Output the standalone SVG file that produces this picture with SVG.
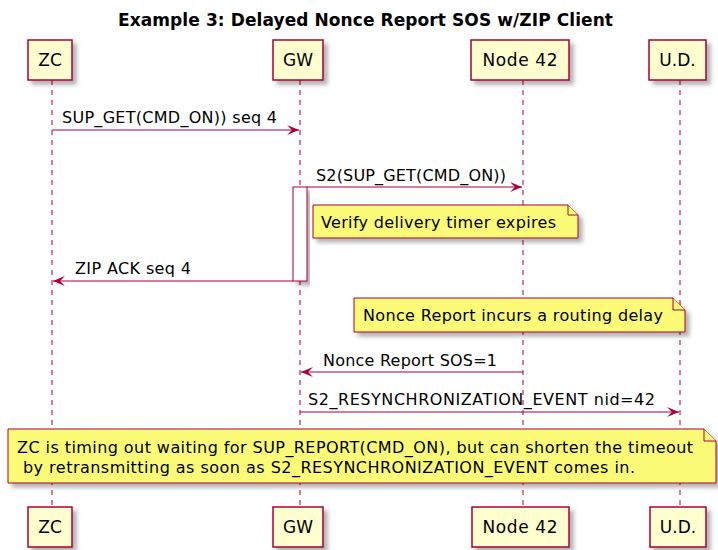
<svg xmlns="http://www.w3.org/2000/svg" width="718" height="550" viewBox="0 0 718 550">
<defs>
<filter id="sh" x="-10%" y="-10%" width="130%" height="140%">
<feDropShadow dx="4" dy="4" stdDeviation="2" flood-color="#000" flood-opacity="0.3"/>
</filter>
<marker id="ah" viewBox="0 0 12 10" refX="12" refY="5" markerWidth="12" markerHeight="10" markerUnits="userSpaceOnUse" orient="auto">
<polygon points="0,0 12,5 0,10 5,5" fill="#A80036"/>
</marker>
</defs>
<style>
text{font-family:"DejaVu Sans","Liberation Sans",sans-serif;font-size:16px;fill:#000}
.title{font-weight:bold;font-size:17px}
.pt{font-size:17px;text-anchor:middle}
.part{fill:#FEFECE;stroke:#A80036;stroke-width:1.5}
.life{stroke:#A80036;stroke-width:1;stroke-dasharray:5,5;fill:none}
.msg{stroke:#A80036;stroke-width:1;fill:none;marker-end:url(#ah)}
.note{fill:#FBFB77;stroke:#A80036;stroke-width:1}
.act{fill:#FFFFFF;stroke:#A80036;stroke-width:1}
</style>
<rect width="718" height="550" fill="#fff"/>
<text class="title" x="118" y="26" textLength="495">Example 3: Delayed Nonce Report SOS w/ZIP Client</text>

<g id="lifelines">
<line class="life" x1="52" y1="80" x2="52" y2="507"/>
<line class="life" x1="300" y1="80" x2="300" y2="507"/>
<line class="life" x1="523" y1="80" x2="523" y2="507"/>
<line class="life" x1="680" y1="80" x2="680" y2="507"/>
</g>

<g id="ZC">
<rect class="part" x="28" y="40" width="44" height="40" filter="url(#sh)"/>
<text class="pt" x="50" y="66">ZC</text>
<rect class="part" x="28" y="507" width="44" height="40" filter="url(#sh)"/>
<text class="pt" x="50" y="533">ZC</text>
</g>
<g id="GW">
<rect class="part" x="273" y="40" width="50" height="40" filter="url(#sh)"/>
<text class="pt" x="298" y="66">GW</text>
<rect class="part" x="273" y="507" width="50" height="40" filter="url(#sh)"/>
<text class="pt" x="298" y="533">GW</text>
</g>
<g id="Node42">
<rect class="part" x="471" y="40" width="98" height="40" filter="url(#sh)"/>
<text class="pt" x="520" y="66" textLength="75">Node 42</text>
<rect class="part" x="472" y="507" width="97" height="40" filter="url(#sh)"/>
<text class="pt" x="520" y="533" textLength="75">Node 42</text>
</g>
<g id="UD">
<rect class="part" x="649" y="40" width="57" height="40" filter="url(#sh)"/>
<text class="pt" x="677.5" y="66">U.D.</text>
<rect class="part" x="650" y="507" width="56" height="40" filter="url(#sh)"/>
<text class="pt" x="678" y="533">U.D.</text>
</g>

<g id="activation">
<rect class="act" x="293" y="187" width="14" height="94" filter="url(#sh)"/>
</g>

<g id="connectors">
<line class="msg" x1="52" y1="130" x2="299" y2="130"/>
<text x="62" y="123" textLength="215">SUP_GET(CMD_ON)) seq 4</text>
<line class="msg" x1="307" y1="187" x2="522" y2="187"/>
<text x="316" y="181" textLength="190">S2(SUP_GET(CMD_ON))</text>
<line class="msg" x1="293" y1="281" x2="53" y2="281"/>
<text x="75" y="274" textLength="116">ZIP ACK seq 4</text>
<line class="msg" x1="523" y1="372" x2="301" y2="372"/>
<text x="323" y="366" textLength="174">Nonce Report SOS=1</text>
<line class="msg" x1="300" y1="412" x2="679" y2="412"/>
<text x="308" y="405" textLength="347">S2_RESYNCHRONIZATION_EVENT nid=42</text>
</g>

<g id="note1">
<path class="note" d="M313,205 H568 L578,215 V238 H313 Z" filter="url(#sh)"/>
<path class="note" d="M568,205 V215 H578" fill="none"/>
<text x="321" y="228" textLength="235">Verify delivery timer expires</text>
</g>
<g id="note2">
<path class="note" d="M354,298 H673 L685,310 V332 H354 Z" filter="url(#sh)"/>
<path class="note" d="M673,298 V310 H685" fill="none"/>
<text x="363" y="321" textLength="300">Nonce Report incurs a routing delay</text>
</g>
<g id="note3">
<path class="note" d="M8,429 H704 L716,441 V483 H8 Z" filter="url(#sh)"/>
<path class="note" d="M704,429 V441 H716" fill="none"/>
<text x="17" y="453" textLength="676">ZC is timing out waiting for SUP_REPORT(CMD_ON), but can shorten the timeout</text>
<text x="23" y="473" textLength="612">by retransmitting as soon as S2_RESYNCHRONIZATION_EVENT comes in.</text>
</g>
</svg>
